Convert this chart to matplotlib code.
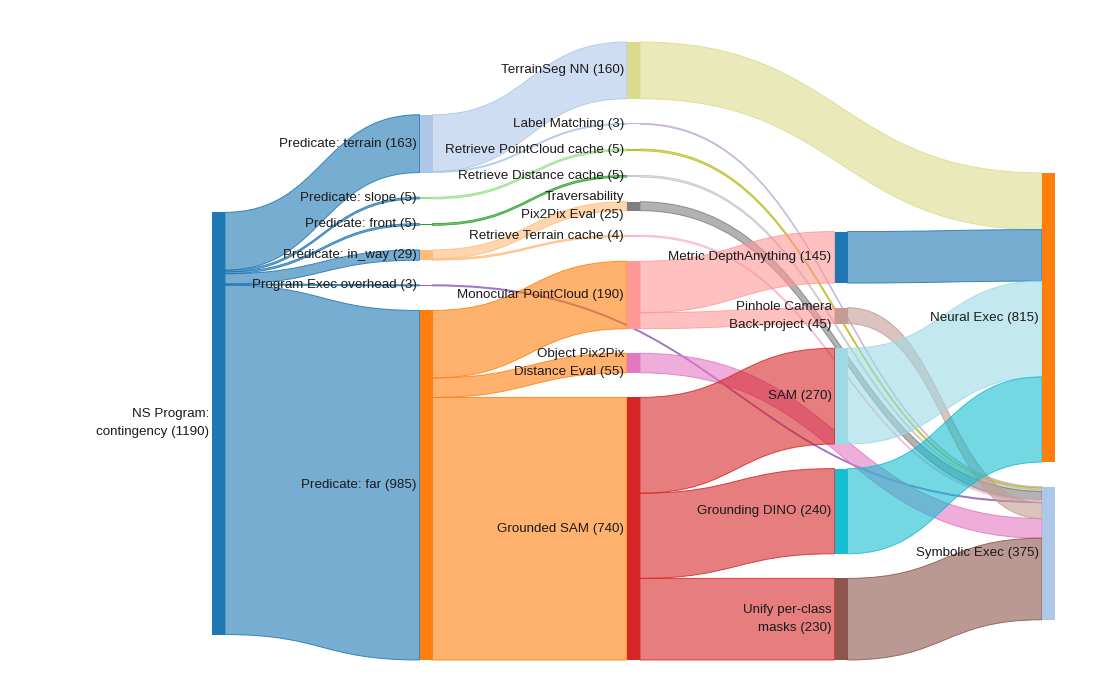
import matplotlib.pyplot as plt
from matplotlib.path import Path
from matplotlib.patches import PathPatch, Rectangle
from matplotlib.colors import to_rgba

plt.rcParams['font.family'] = ['Liberation Sans', 'DejaVu Sans']

# nodes (top to bottom inside each column)
node_names = [
    "NS Program:\ncontingency",
    "Predicate: terrain", "Predicate: slope", "Predicate: front",
    "Predicate: in_way", "Program Exec overhead", "Predicate: far",
    "TerrainSeg NN", "Label Matching", "Retrieve PointCloud cache",
    "Retrieve Distance cache", "Traversability\nPix2Pix Eval",
    "Retrieve Terrain cache", "Monocular PointCloud",
    "Object Pix2Pix\nDistance Eval", "Grounded SAM",
    "Metric DepthAnything", "Pinhole Camera\nBack-project", "SAM",
    "Grounding DINO", "Unify per-class\nmasks",
    "Neural Exec", "Symbolic Exec",
]
node_col = [0, 1, 1, 1, 1, 1, 1, 2, 2, 2, 2, 2, 2, 2, 2, 2,
            3, 3, 3, 3, 3, 4, 4]
node_colors = [
    "#1f77b4",
    "#aec7e8", "#98df8a", "#2ca02c", "#ffbb78", "#9467bd", "#ff7f0e",
    "#dbdb8d", "#c5b0d5", "#bcbd22", "#c7c7c7", "#7f7f7f", "#f7b6d2",
    "#ff9896", "#e377c2", "#d62728",
    "#1f77b4", "#c49c94", "#9edae5", "#17becf", "#8c564b",
    "#ff7f0e", "#aec7e8",
]

# links
link_source = [0, 0, 0, 0, 0, 0, 1, 1, 2, 3, 4, 4, 5, 6, 6, 6,
               7, 8, 9, 10, 11, 12, 13, 13, 14, 15, 15, 15,
               16, 17, 18, 19, 20]
link_target = [1, 2, 3, 4, 5, 6, 7, 8, 9, 10, 11, 12, 22, 13, 14, 15,
               21, 22, 22, 22, 22, 22, 16, 17, 22, 18, 19, 20,
               21, 22, 21, 21, 22]
link_value = [163, 5, 5, 29, 3, 985, 160, 3, 5, 5, 25, 4, 3, 190, 55, 740,
              160, 3, 5, 5, 25, 4, 145, 45, 55, 270, 240, 230,
              145, 45, 270, 240, 230]

# layout (pixels)
x_left, x_right = 212, 1055
y_top, y_bot = 42, 660
node_w = 13
pad = 24.6
col_align = [0.87, 1.0, 0.0, 1.0, 0.765]

n = len(node_names)
n_cols = max(node_col) + 1
vin = [0] * n
vout = [0] * n
for s, t, v in zip(link_source, link_target, link_value):
    vout[s] += v
    vin[t] += v
node_val = [max(a, b) for a, b in zip(vin, vout)]

cols = [[i for i in range(n) if node_col[i] == c] for c in range(n_cols)]
dom_h = y_bot - y_top
ky = min((dom_h - (len(c) - 1) * pad) / sum(node_val[i] for i in c) for c in cols)
col_dx = (x_right - x_left - node_w) / (n_cols - 1)

nx = [x_left + node_col[i] * col_dx for i in range(n)]
ny0 = [0.0] * n
ny1 = [0.0] * n
for c, members in enumerate(cols):
    stack = sum(node_val[i] for i in members) * ky + (len(members) - 1) * pad
    y = y_top + (dom_h - stack) * col_align[c]
    for i in members:
        ny0[i] = y
        ny1[i] = y + node_val[i] * ky
        y = ny1[i] + pad

fig = plt.figure(figsize=(11, 7), dpi=100)
ax = fig.add_axes([0, 0, 1, 1])
ax.set_xlim(0, 1100)
ax.set_ylim(700, 0)
ax.axis('off')

# link offsets: at source sorted by target y, at target sorted by source y
idx = range(len(link_value))
src_off = {}
tgt_off = {}
for i in range(n):
    outs = sorted([k for k in idx if link_source[k] == i], key=lambda k: ny0[link_target[k]])
    y = ny0[i]
    for k in outs:
        src_off[k] = y
        y += link_value[k] * ky
    ins = sorted([k for k in idx if link_target[k] == i], key=lambda k: ny0[link_source[k]])
    y = ny0[i]
    for k in ins:
        tgt_off[k] = y
        y += link_value[k] * ky

for k in idx:
    s, t = link_source[k], link_target[k]
    h = link_value[k] * ky
    x0 = nx[s] + node_w
    x1 = nx[t]
    xm = (x0 + x1) / 2
    a0, a1 = src_off[k], tgt_off[k]
    b0, b1 = a0 + h, a1 + h
    verts = [(x0, a0), (xm, a0), (xm, a1), (x1, a1),
             (x1, b1), (xm, b1), (xm, b0), (x0, b0), (x0, a0)]
    codes = [Path.MOVETO, Path.CURVE4, Path.CURVE4, Path.CURVE4,
             Path.LINETO, Path.CURVE4, Path.CURVE4, Path.CURVE4, Path.CLOSEPOLY]
    col = node_colors[s]
    ax.add_patch(PathPatch(Path(verts, codes), facecolor=to_rgba(col, 0.6),
                           edgecolor=to_rgba(col, 0.85), lw=0.7, zorder=1))

for i in range(n):
    ax.add_patch(Rectangle((nx[i], ny0[i]), node_w, ny1[i] - ny0[i],
                           facecolor=node_colors[i], edgecolor='none', zorder=2))
    ax.text(nx[i] - 3, (ny0[i] + ny1[i]) / 2, f"{node_names[i]} ({node_val[i]})",
            ha='right', va='center', multialignment='right', fontsize=9.6,
            color='#1a1a1a', linespacing=1.65, zorder=3)

fig.savefig("out.png", dpi=100)
